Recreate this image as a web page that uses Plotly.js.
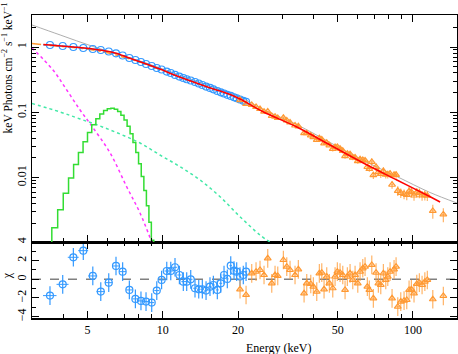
<!DOCTYPE html>
<html>
<head>
<meta charset="utf-8">
<script src="https://cdn.plot.ly/plotly-3.0.1.min.js"></script>
<style>
  html, body { margin: 0; padding: 0; background: white; }
  #plot { width: 458px; height: 354px; }
</style>
</head>
<body>
<div id="plot"></div>
<script>
// ===============================
// DATA
// ===============================

// blue instrument (3-21 keV)
var blueE = [3.54, 3.98, 4.39, 4.81, 5.25, 5.65, 6.08, 6.50, 6.91, 7.35,
             7.77, 8.18, 8.57, 9.03, 9.46, 9.89, 10.37, 10.76, 11.19, 11.65,
             12.08, 12.46, 12.93, 13.45, 13.92, 14.39, 14.89, 15.44, 15.93, 16.52,
             17.05, 17.57, 18.11, 18.69, 19.26, 19.74, 20.35, 20.98, 21.52];
var blueFlux = [1.073, 1.036, 1.0, 0.965, 0.932, 0.900, 0.853, 0.801, 0.741, 0.678,
                0.632, 0.589, 0.549, 0.512, 0.477, 0.452, 0.421, 0.400, 0.373, 0.353,
                0.335, 0.321, 0.307, 0.291, 0.276, 0.262, 0.248, 0.236, 0.225, 0.212,
                0.202, 0.194, 0.185, 0.178, 0.170, 0.164, 0.157, 0.150, 0.145];
var blueChi = [-1.75, -0.54, 2.36, 3.07, 0.36, -1.32, -0.36, 1.43, 0.82, -1.14,
               -2.1, -2.32, -2.39, -2.5, -1.21, -0.07, 0.89, 0.89, 1.29, 0.46,
               -0.25, -0.25, 0, -0.96, -1.07, -1.07, -1.21, -0.79, -0.61, -1.14,
               -0.43, 0.46, 0.04, 1.46, 0.93, 0.82, 0.29, 0.46, 0.82];

// orange instrument (20-130 keV)
var orangeE = [20.36, 21.52, 22.67, 23.59, 24.47, 25.39, 26.27, 27.26, 28.10, 28.81,
               30.34, 31.30, 32.26, 33.78, 34.82, 36.71, 37.62, 39.04, 39.98, 41.25,
               42.25, 43.20, 44.12, 45.22, 46.33,
               47.80, 48.83, 49.87, 51.12, 52.41, 53.53, 54.67, 56.05, 57.47, 58.70,
               60.18, 61.46, 63.01, 64.35, 65.73, 66.95,
               68.46, 69.46, 71.21, 72.74, 74.36, 76.17, 77.86, 79.32, 81.02, 82.51,
               84.05, 85.61,
               86.96, 89.39, 92.14, 94.45, 96.49, 98.56, 100.99, 103.58, 106.08, 108.77,
               111.57, 114.15,
               120.04, 132.28];
var orangeFlux = [0.1538, 0.1340, 0.1298, 0.1206, 0.1123, 0.1021, 0.1025, 0.0878, 0.0859, 0.0818,
                  0.0824, 0.0749, 0.0698, 0.0628, 0.0610, 0.0479, 0.0480, 0.0443, 0.0416, 0.0379,
                  0.0401, 0.0385, 0.0335, 0.0341, 0.0312,
                  0.0275, 0.0294, 0.0295, 0.0278, 0.0257, 0.0214, 0.0233, 0.0228, 0.0203, 0.0204,
                  0.0179, 0.0191, 0.0187, 0.0183, 0.01454, 0.01354,
                  0.0174, 0.01088, 0.01454, 0.01214, 0.01135, 0.01262, 0.01108, 0.01119, 0.01147, 0.00778,
                  0.01100, 0.01104,
                  0.00628, 0.00585, 0.00561, 0.00543, 0.00617, 0.00600, 0.00532, 0.00595, 0.00583, 0.00534,
                  0.00540, 0.00530,
                  0.00309, 0.00273];
var orangeErr = [0.0055, 0.0048, 0.0047, 0.0043, 0.0040, 0.0037, 0.0037, 0.0032, 0.0031, 0.0029,
                 0.0044, 0.0040, 0.0038, 0.0034, 0.0033, 0.0026, 0.0026, 0.0024, 0.0022, 0.0020,
                 0.0022, 0.0021, 0.0018, 0.0018, 0.0017,
                 0.0025, 0.0027, 0.0027, 0.0026, 0.0024, 0.0020, 0.0021, 0.0021, 0.0019, 0.0019,
                 0.0016, 0.0018, 0.0017, 0.0017, 0.0013, 0.0012,
                 0.0023, 0.0014, 0.0019, 0.0016, 0.0015, 0.0016, 0.0014, 0.0015, 0.0015, 0.0010,
                 0.0014, 0.0014,
                 0.00107, 0.00099, 0.00095, 0.00092, 0.00105, 0.00102, 0.00090, 0.00101, 0.00099, 0.00091,
                 0.00092, 0.00090,
                 0.00074, 0.00066];
var orangeChi = [-1.07, -1.68, 0.64, 0.82, 1.0, 0.46, 2.25, -0.43, 0.46, 0.36,
                 2.07, 1.36, 1.0, 0.46, 1.07, -1.5, -0.43, -0.5, -0.79, -1.32,
                 0.64, 0.71, -1.07, 0.29, -0.43,
                 -0.96, 0.29, 0.82, 0.71, 0.46, -1.14, 0.29, 0.64, -0.07, 0.46,
                 -0.43, 0.82, 1.18, 1.36, -0.79, -1.14,
                 1.54, -2.04, 0.71, -0.43, -0.61, 0.64, -0.07, 0.29, 0.82, -2.04,
                 1.07, 1.36,
                 -2.93, -2.39, -2.29, -2.21, -1.14, -1.07, -1.5, -0.5, -0.36, -0.61,
                 -0.25, -0.07,
                 -2.14, -1.79];

// model curves
var totalE = [3.33, 3.54, 4.39, 5.25, 6.08, 6.50, 6.91, 7.35, 8.11, 9.74, 10.99,
              14.99, 18.57, 20.35, 25.17, 34.33, 46.61, 63.33, 86.22, 117.13, 128.4];
var totalF = [1.092, 1.073, 1.0, 0.932, 0.853, 0.801, 0.741, 0.678, 0.5955, 0.460, 0.379,
              0.2466, 0.1874, 0.160, 0.1021, 0.0596, 0.03156, 0.01673, 0.00919, 0.0051, 0.00423];

var unabsE = [3.0, 3.89, 5.26, 6.75, 8.11, 9.74, 14.09, 20.35, 25.17, 34.33, 46.61, 63.33, 86.22, 117.13, 150];
var unabsF = [2.173, 1.527, 1.018, 0.754, 0.6104, 0.477, 0.286, 0.1715, 0.110, 0.065, 0.0345, 0.01828, 0.0104, 0.00591, 0.00408];

var model2E = [3.0, 3.54, 4.39, 5.25, 6.08, 6.91, 7.77, 9.74];
var model2F = [1.131, 1.054, 0.983, 0.90, 0.809, 0.703, 0.621, 0.452];

var softE = [3.0, 3.64, 4.13, 4.67, 5.20, 6.16, 7.18, 8.11, 9.03];
var softF = [0.965, 0.444, 0.2196, 0.1084, 0.0617, 0.0238, 0.00718, 0.00287, 0.00103];

var plE = [3.0, 3.89, 4.67, 5.61, 6.75, 8.11, 9.74, 11.72, 14.09, 16.94, 20.35, 24.47, 26.84];
var plF = [0.1364, 0.101, 0.079, 0.0617, 0.0465, 0.0339, 0.0222, 0.0147, 0.00919, 0.00509, 0.00252, 0.00132, 0.00103];

var lineE = [3.4, 3.6, 3.8, 4.0, 4.2, 4.4, 4.6, 4.8, 5.0, 5.2,
             5.4, 5.6, 5.8, 6.0, 6.2, 6.4, 6.6, 6.8, 7.0, 7.2,
             7.4, 7.6, 7.8, 8.0, 8.2, 8.4, 8.6, 8.8, 9.0, 9.2];
var lineF = [0.00086, 0.00171, 0.00323, 0.00578, 0.00983, 0.01586, 0.0243, 0.0354, 0.0489, 0.0642,
             0.0799, 0.0946, 0.1063, 0.1134, 0.1149, 0.1110, 0.1025, 0.0904, 0.0761, 0.0612,
             0.0471, 0.0346, 0.0242, 0.01624, 0.01039, 0.00635, 0.00371, 0.00207, 0.0011, 0.00056];

// ticks
var xTicks = [5, 10, 20, 50, 100];
var xTickText = ['5', '10', '20', '50', '100'];
var xMinor = [3, 4, 6, 7, 8, 9, 30, 40, 60, 70, 80, 90];
var fluxTicks = [0.01, 0.1, 1];
var fluxTickText = ['0.01', '0.1', '1'];
var fluxMinor = [0.002, 0.003, 0.004, 0.005, 0.006, 0.007, 0.008, 0.009,
                 0.02, 0.03, 0.04, 0.05, 0.06, 0.07, 0.08, 0.09,
                 0.2, 0.3, 0.4, 0.5, 0.6, 0.7, 0.8, 0.9, 2, 3];
var chiTicks = [-4, -2, 0, 2, 4];
var chiTickText = ['\u22124', '\u22122', '0', '2', '4'];
var chiMinor = [-3, -1, 1, 3];

// ===============================
// STYLE
// ===============================
var BLUE = '#3399ff';
var ORANGE = '#ff9933';
var ORANGE_ERR = 'rgba(255,153,51,0.75)';
var FONT = 'Liberation Serif, Times New Roman, serif';

// ===============================
// TRACES
// ===============================
var traces = [

{   // power law component
    x: plE, y: plF, xaxis: 'x2', yaxis: 'y2',
    type: 'scatter', mode: 'lines',
    line: {color: '#44e8a8', width: 1.5, dash: 'dot', shape: 'spline'}
},

{   // soft component
    x: softE, y: softF, xaxis: 'x2', yaxis: 'y2',
    type: 'scatter', mode: 'lines',
    line: {color: '#ff33ff', width: 1.5, dash: 'dot', shape: 'spline'}
},

{   // emission line
    x: lineE, y: lineF, xaxis: 'x2', yaxis: 'y2',
    type: 'scatter', mode: 'lines',
    line: {color: '#33dd33', width: 1.5, shape: 'hv'}
},

{   // unabsorbed model
    x: unabsE, y: unabsF, xaxis: 'x2', yaxis: 'y2',
    type: 'scatter', mode: 'lines',
    line: {color: '#999999', width: 0.8, shape: 'spline'}
},

{   // second instrument model
    x: model2E, y: model2F, xaxis: 'x2', yaxis: 'y2',
    type: 'scatter', mode: 'lines',
    line: {color: ORANGE, width: 1.5, dash: 'dashdot', shape: 'spline'}
},

{   // blue data
    x: blueE, y: blueFlux, xaxis: 'x2', yaxis: 'y2',
    type: 'scatter', mode: 'markers',
    marker: {symbol: 'circle-open', size: 7, color: BLUE, line: {width: 1.2}},
    error_y: {type: 'percent', value: 2, color: BLUE, thickness: 1, width: 0},
    error_x: {type: 'constant', value: 0.22, color: BLUE, thickness: 1, width: 0}
},

{   // orange data
    x: orangeE, y: orangeFlux, xaxis: 'x2', yaxis: 'y2',
    type: 'scatter', mode: 'markers',
    marker: {symbol: 'triangle-up-open', size: 6, color: ORANGE, line: {width: 1.2}},
    error_y: {type: 'data', array: orangeErr, color: ORANGE_ERR, thickness: 1.2, width: 0},
    error_x: {type: 'percent', value: 1.5, color: ORANGE_ERR, thickness: 1, width: 0}
},

{   // total model
    x: totalE, y: totalF, xaxis: 'x2', yaxis: 'y2',
    type: 'scatter', mode: 'lines',
    line: {color: '#ff0000', width: 1.5, shape: 'spline'}
},

{   // residuals blue
    x: blueE, y: blueChi, xaxis: 'x', yaxis: 'y',
    type: 'scatter', mode: 'markers',
    marker: {symbol: 'circle-open', size: 7, color: BLUE, line: {width: 1.2}},
    error_y: {type: 'constant', value: 1, color: BLUE, thickness: 1.2, width: 0},
    error_x: {type: 'constant', value: 0.22, color: BLUE, thickness: 1, width: 0}
},

{   // residuals orange
    x: orangeE, y: orangeChi, xaxis: 'x', yaxis: 'y',
    type: 'scatter', mode: 'markers',
    marker: {symbol: 'triangle-up-open', size: 6, color: ORANGE, line: {width: 1.2}},
    error_y: {type: 'constant', value: 1, color: ORANGE_ERR, thickness: 1.2, width: 0},
    error_x: {type: 'percent', value: 1.5, color: ORANGE_ERR, thickness: 1, width: 0}
}

];

// ===============================
// LAYOUT
// ===============================
var split = 76 / 303;

function frameAxis(extra) {
    var base = {
        showline: true, linecolor: 'black', linewidth: 1.5,
        mirror: 'allticks', ticks: 'inside', ticklen: 7, tickwidth: 1, tickcolor: 'black',
        showgrid: false, zeroline: false,
        tickfont: {family: FONT, size: 12, color: 'black'}
    };
    for (var k in extra) base[k] = extra[k];
    return base;
}

var layout = {
    width: 458,
    height: 354,
    margin: {l: 32, r: 1, t: 15, b: 36},
    paper_bgcolor: 'white',
    plot_bgcolor: 'white',
    showlegend: false,
    font: {family: FONT, size: 12, color: 'black'},

    xaxis: frameAxis({
        type: 'log', range: [Math.log10(3), Math.log10(150)],
        anchor: 'y', domain: [0, 1],
        tickmode: 'array', tickvals: xTicks, ticktext: xTickText,
        minor: {tickmode: 'array', tickvals: xMinor, ticks: 'inside', ticklen: 4, tickcolor: 'black'}
    }),

    xaxis2: frameAxis({
        type: 'log', range: [Math.log10(3), Math.log10(150)],
        anchor: 'y2', domain: [0, 1], showticklabels: false,
        tickmode: 'array', tickvals: xTicks,
        minor: {tickmode: 'array', tickvals: xMinor, ticks: 'inside', ticklen: 4, tickcolor: 'black'}
    }),

    yaxis: frameAxis({
        domain: [0, split], anchor: 'x', range: [-4.15, 4],
        tickmode: 'array', tickvals: chiTicks, ticktext: chiTickText, tickangle: -90,
        minor: {tickmode: 'array', tickvals: chiMinor, ticks: 'inside', ticklen: 4, tickcolor: 'black'}
    }),

    yaxis2: frameAxis({
        type: 'log', domain: [split, 1], anchor: 'x2', range: [-2.986, 0.49],
        tickmode: 'array', tickvals: fluxTicks, ticktext: fluxTickText, tickangle: -90,
        minor: {tickmode: 'array', tickvals: fluxMinor, ticks: 'inside', ticklen: 4, tickcolor: 'black'}
    }),

    shapes: [{
        type: 'line', xref: 'paper', yref: 'y', x0: 0, x1: 1, y0: 0, y1: 0,
        layer: 'below',
        line: {color: '#808080', width: 1.5, dash: 'dash'}
    }],

    annotations: [
        {
            text: 'Energy (keV)', xref: 'paper', yref: 'paper',
            x: 0.581, y: -0.099, xanchor: 'center', yanchor: 'middle',
            showarrow: false, font: {family: FONT, size: 12}
        },
        {
            text: 'keV Photons cm<sup>\u22122</sup> s<sup>\u22121</sup> keV<sup>\u22121</sup>',
            xref: 'paper', yref: 'paper', x: -0.058, y: 0.825,
            xanchor: 'center', yanchor: 'middle', textangle: -90,
            showarrow: false, font: {family: FONT, size: 11.5}
        },
        {
            text: '\u03c7', xref: 'paper', yref: 'paper', x: -0.058, y: 0.139,
            xanchor: 'center', yanchor: 'middle', textangle: -90,
            showarrow: false, font: {family: FONT, size: 12}
        }
    ]
};

Plotly.newPlot('plot', traces, layout, {displayModeBar: false, staticPlot: true});
</script>
</body>
</html>
